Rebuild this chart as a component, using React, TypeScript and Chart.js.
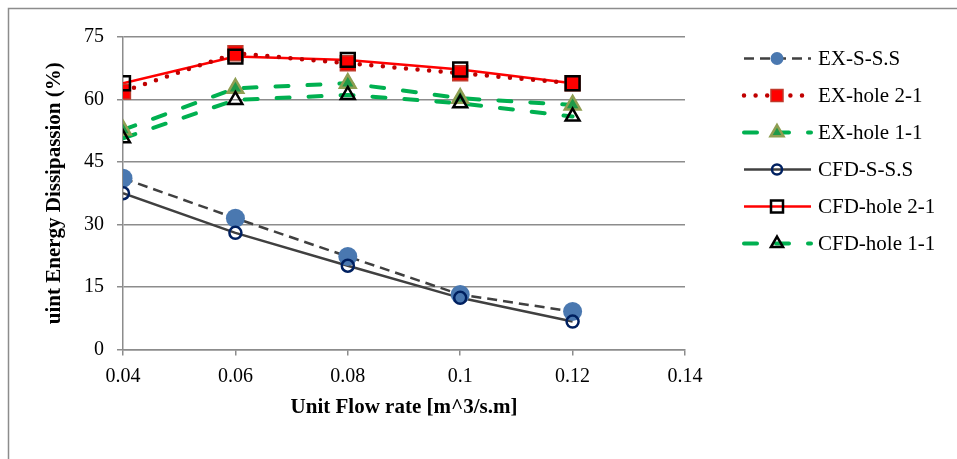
import React, { useEffect, useRef } from "react";
import { Chart, registerables } from "chart.js";

Chart.register(...registerables);

// ---- data ----
const flowRates = [0.04, 0.06, 0.08, 0.1, 0.12];
const exSSS = [41.1, 31.5, 22.3, 13.2, 9.1];
const exHole21 = [61.9, 71.1, 68.7, 66.3, 63.9];
const exHole11 = [52.7, 62.7, 63.9, 60.3, 58.7];
const cfdSSS = [37.5, 28.0, 20.1, 12.4, 6.7];
const cfdHole21 = [63.9, 70.3, 69.5, 67.2, 63.9];
const cfdHole11 = [50.7, 59.9, 61.1, 59.1, 55.9];

const seriesNames = ["EX-S-S.S", "EX-hole 2-1", "EX-hole 1-1", "CFD-S-S.S", "CFD-hole 2-1", "CFD-hole 1-1"];
const seriesValues = [exSSS, exHole21, exHole11, cfdSSS, cfdHole21, cfdHole11];

const xTickMin = 0.04;
const xTickMax = 0.14;
const xTickStep = 0.02;
const yTickMin = 0;
const yTickMax = 75;
const yTickStep = 15;

const xTitle = "Unit Flow rate [m^3/s.m]";
const yTitle = "uint Energy Dissipassion (%)";

// ---- styles ----
type Style = {
  lineColor: string;
  lineWidth: number;
  dash: number[];
  cap: CanvasLineCap;
  marker: "circle" | "rect" | "triangle";
  radius: number;
  fill: string;
  stroke: string;
  strokeWidth: number;
  legendR: number;
};

const styles: Style[] = [
  { lineColor: "#404040", lineWidth: 2.5, dash: [10, 6], cap: "butt", marker: "circle", radius: 9.5, fill: "#4a78b0", stroke: "#4a78b0", strokeWidth: 0, legendR: 6.5 },
  { lineColor: "#c00000", lineWidth: 4.5, dash: [0, 11.6], cap: "round", marker: "rect", radius: 10.5, fill: "#ff0000", stroke: "#c0392b", strokeWidth: 1.5, legendR: 6 },
  { lineColor: "#00b050", lineWidth: 4, dash: [13, 19], cap: "round", marker: "triangle", radius: 9, fill: "#1f9a48", stroke: "#8f9e52", strokeWidth: 2.5, legendR: 7.5 },
  { lineColor: "#404040", lineWidth: 2.5, dash: [], cap: "butt", marker: "circle", radius: 6, fill: "rgba(0,0,0,0)", stroke: "#002060", strokeWidth: 2.5, legendR: 5 },
  { lineColor: "#ff0000", lineWidth: 2.5, dash: [], cap: "butt", marker: "rect", radius: 9.8, fill: "rgba(0,0,0,0)", stroke: "#000000", strokeWidth: 2.5, legendR: 6 },
  { lineColor: "#00b050", lineWidth: 4, dash: [13, 19], cap: "round", marker: "triangle", radius: 8, fill: "rgba(0,0,0,0)", stroke: "#000000", strokeWidth: 2.5, legendR: 7 },
];

const gridColor = "#8c8c8c";
const fontFamily = '"Liberation Serif", "Times New Roman", serif';

function drawMarker(ctx: CanvasRenderingContext2D, s: Style, x: number, y: number, r: number) {
  ctx.save();
  ctx.setLineDash([]);
  ctx.beginPath();
  if (s.marker === "circle") {
    ctx.arc(x, y, r, 0, Math.PI * 2);
  } else if (s.marker === "rect") {
    ctx.rect(x - r, y - r, 2 * r, 2 * r);
  } else {
    let rad = 0;
    ctx.moveTo(x + Math.sin(rad) * r, y - Math.cos(rad) * r);
    rad += (Math.PI * 2) / 3;
    ctx.lineTo(x + Math.sin(rad) * r, y - Math.cos(rad) * r);
    rad += (Math.PI * 2) / 3;
    ctx.lineTo(x + Math.sin(rad) * r, y - Math.cos(rad) * r);
    ctx.closePath();
  }
  ctx.fillStyle = s.fill;
  ctx.fill();
  if (s.strokeWidth > 0) {
    ctx.lineWidth = s.strokeWidth;
    ctx.strokeStyle = s.stroke;
    ctx.stroke();
  }
  ctx.restore();
}

const framePlugin = {
  id: "frame",
  beforeDraw(chart: any) {
    const ctx: CanvasRenderingContext2D = chart.ctx;
    ctx.save();
    ctx.strokeStyle = gridColor;
    ctx.lineWidth = 1.5;
    ctx.beginPath();
    ctx.moveTo(8.5, 470);
    ctx.lineTo(8.5, 8.5);
    ctx.lineTo(970, 8.5);
    ctx.stroke();
    ctx.restore();
  },
};

const legendPlugin = {
  id: "customLegend",
  afterDraw(chart: any) {
    const ctx: CanvasRenderingContext2D = chart.ctx;
    const x0 = 744;
    const x1 = 811;
    const mx = 777;
    const tx = 818;
    const y0 = 58.5;
    const step = 37;
    seriesNames.forEach((name, i) => {
      const s = styles[i];
      const y = y0 + i * step;
      ctx.save();
      ctx.strokeStyle = s.lineColor;
      ctx.lineWidth = s.lineWidth;
      ctx.lineCap = s.cap;
      ctx.setLineDash(s.dash);
      ctx.beginPath();
      ctx.moveTo(x0, y);
      ctx.lineTo(x1, y);
      ctx.stroke();
      ctx.restore();
      drawMarker(ctx, s, mx, y, s.legendR);
      ctx.save();
      ctx.fillStyle = "#000000";
      ctx.font = `21px ${fontFamily}`;
      ctx.textBaseline = "middle";
      ctx.textAlign = "left";
      ctx.fillText(name, tx, y + 1);
      ctx.restore();
    });
  },
};

export default function App() {
  const canvasRef = useRef<HTMLCanvasElement | null>(null);

  useEffect(() => {
    if (!canvasRef.current) return;
    const points = (vals: number[]) => flowRates.map((x, i) => ({ x, y: vals[i] }));

    const lineDatasets = seriesValues.map((vals, i) => {
      const s = styles[i];
      return {
        label: seriesNames[i] + " line",
        data: points(vals),
        borderColor: s.lineColor,
        borderWidth: s.lineWidth,
        borderDash: s.dash,
        borderCapStyle: s.cap,
        borderJoinStyle: "round" as const,
        pointRadius: 0,
        pointHoverRadius: 0,
        fill: false,
        tension: 0,
        order: i < 3 ? 10 + i : 20 + i,
      };
    });

    const markerDatasets = seriesValues.map((vals, i) => {
      const s = styles[i];
      return {
        label: seriesNames[i],
        data: points(vals),
        showLine: false,
        pointStyle: s.marker,
        pointRadius: s.radius,
        pointHoverRadius: s.radius,
        pointBackgroundColor: s.fill,
        pointBorderColor: s.strokeWidth > 0 ? s.stroke : s.fill,
        pointBorderWidth: s.strokeWidth,
        borderColor: s.lineColor,
        backgroundColor: s.fill,
        order: i < 3 ? 5 + i : i - 3,
      };
    });

    const chart = new Chart(canvasRef.current, {
      type: "line",
      data: { datasets: [...markerDatasets, ...lineDatasets] as any },
      options: {
        animation: false,
        responsive: false,
        maintainAspectRatio: false,
        layout: { padding: { left: 0, top: 37, right: 272, bottom: 0 } },
        plugins: {
          legend: { display: false },
          tooltip: { enabled: false },
        },
        scales: {
          x: {
            type: "linear",
            min: xTickMin,
            max: xTickMax,
            ticks: {
              stepSize: xTickStep,
              color: "#000000",
              font: { family: fontFamily, size: 20 },
              padding: 9,
              maxRotation: 0,
              callback: (v: any) => String(Number(Number(v).toFixed(2))),
            },
            grid: {
              drawOnChartArea: false,
              drawTicks: true,
              tickLength: 6,
              color: gridColor,
              lineWidth: 1.5,
            },
            border: { display: true, color: gridColor, width: 1.5 },
            title: {
              display: true,
              text: xTitle,
              color: "#000000",
              font: { family: fontFamily, size: 21, weight: "bold" },
              padding: { top: 0, bottom: 39 },
            },
            afterFit: (scale: any) => {
              scale.height = 109.5;
              scale.paddingLeft = 0;
              scale.paddingRight = 0;
            },
          },
          y: {
            type: "linear",
            min: yTickMin,
            max: yTickMax,
            ticks: {
              stepSize: yTickStep,
              color: "#000000",
              font: { family: fontFamily, size: 20 },
              padding: 13,
            },
            grid: {
              drawOnChartArea: true,
              drawTicks: true,
              tickLength: 6,
              color: gridColor,
              lineWidth: 1.5,
            },
            border: { display: true, color: gridColor, width: 1.5 },
            title: {
              display: true,
              text: yTitle,
              color: "#000000",
              font: { family: fontFamily, size: 21, weight: "bold" },
              padding: { top: 42, bottom: 0 },
            },
            afterFit: (scale: any) => {
              scale.width = 123;
              scale.paddingTop = 0;
              scale.paddingBottom = 0;
            },
          },
        },
      } as any,
      plugins: [framePlugin, legendPlugin],
    });
    return () => chart.destroy();
  }, []);

  return (
    <div style={{ position: "fixed", left: 0, top: 0, width: 957, height: 459, background: "#ffffff", overflow: "hidden" }}>
      <canvas ref={canvasRef} width={957} height={459} style={{ width: 957, height: 459, display: "block" }} />
    </div>
  );
}
